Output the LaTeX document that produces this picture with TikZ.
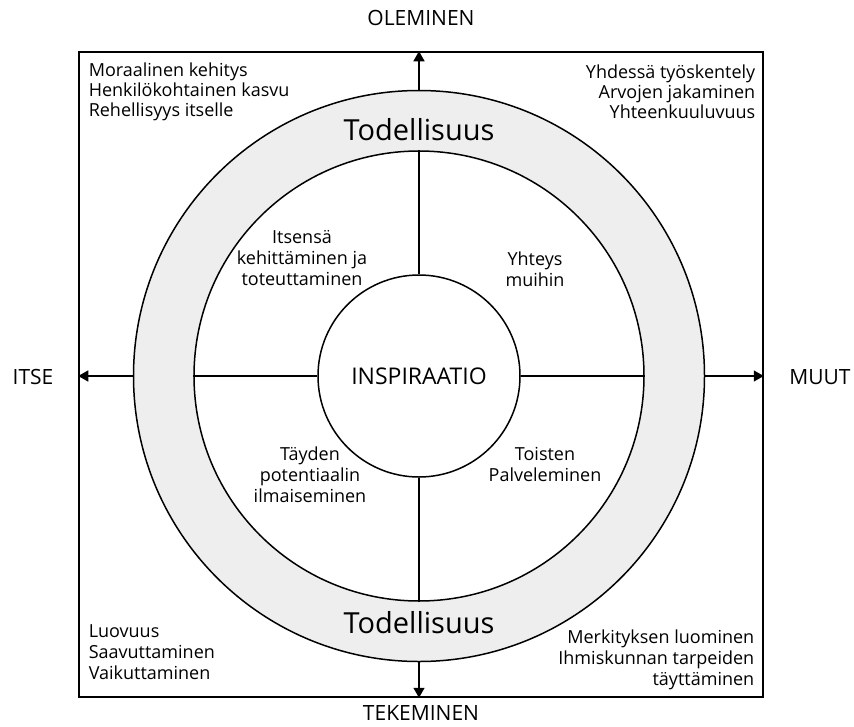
\documentclass[tikz,border=0pt]{standalone}
\usepackage{fontspec}
\setmainfont{Open Sans}
\usetikzlibrary{arrows.meta}
\definecolor{ringgray}{HTML}{EEEEEE}

\begin{document}
\begin{tikzpicture}[x=1pt,y=-1pt,line width=1.5pt,
        txt/.style={font=\fontsize{18}{21}\selectfont, inner sep=0pt},
        axis/.style={font=\fontsize{21}{25}\selectfont, inner sep=0pt},
        ring/.style={circle, draw, inner sep=0pt},
        arr/.style={-{Triangle[length=10pt,width=11pt]}}]
        \useasboundingbox (0,0) rectangle (854,726);

        % frame and circles
        \node[draw, minimum width=684pt, minimum height=645pt, inner sep=0pt] (frame) at (421,374.5) {};
        \node[ring, fill=ringgray, minimum size=571pt] (outer) at (419,376) {};
        \node[ring, fill=white, minimum size=450pt] (inner) at (419,376) {};
        \node[ring, minimum size=202pt, font=\fontsize{23}{27}\selectfont] (insp) at (419,376) {INSPIRAATIO};

        % spokes
        \draw (inner.north) -- (insp.north);
        \draw (inner.south) -- (insp.south);
        \draw (inner.west) -- (insp.west);
        \draw (inner.east) -- (insp.east);

        % arrows to the frame
        \draw[arr] (outer.north) -- (outer.north |- frame.north);
        \draw[arr] (outer.south) -- (outer.south |- frame.south);
        \draw[arr] (outer.west) -- (outer.west -| frame.west);
        \draw[arr] (outer.east) -- (outer.east -| frame.east);

        \node[font=\fontsize{29}{33}\selectfont] (realtop) at (419,130) {Todellisuus};
        \node[font=\fontsize{29}{33}\selectfont] (realbot) at (419,623) {Todellisuus};

        % quadrants
        \node[txt, align=center] (selfdev) at (302,258) {Itsensä\\kehittäminen ja\\toteuttaminen};
        \node[txt, align=center] (connect) at (535,269) {Yhteys\\muihin};
        \node[txt, align=center] (express) at (310,475) {Täyden\\potentiaalin\\ilmaiseminen};
        \node[txt, align=center] (serve) at (545,464) {Toisten\\Palveleminen};

        % corners
        \node[txt, align=left, anchor=west, font=\fontsize{18}{20}\selectfont] (moral) at (88,92) {Moraalinen kehitys\\Henkilökohtainen kasvu\\Rehellisyys itselle};
        \node[txt, align=right, anchor=east, font=\fontsize{18}{20}\selectfont] (together) at (756,92) {Yhdessä työskentely\\Arvojen jakaminen\\Yhteenkuuluvuus};
        \node[txt, align=left, anchor=west] (create) at (88,652) {Luovuus\\Saavuttaminen\\Vaikuttaminen};
        \node[txt, align=right, anchor=east] (meaning) at (755,660) {Merkityksen luominen\\Ihmiskunnan tarpeiden\\täyttäminen};

        % axis labels
        \node[axis] (being) at (421,18) {OLEMINEN};
        \node[axis] (doing) at (421,713) {TEKEMINEN};
        \node[axis] (self) at (33,377) {ITSE};
        \node[axis] (others) at (820,377) {MUUT};
    \end{tikzpicture}
\end{document}
